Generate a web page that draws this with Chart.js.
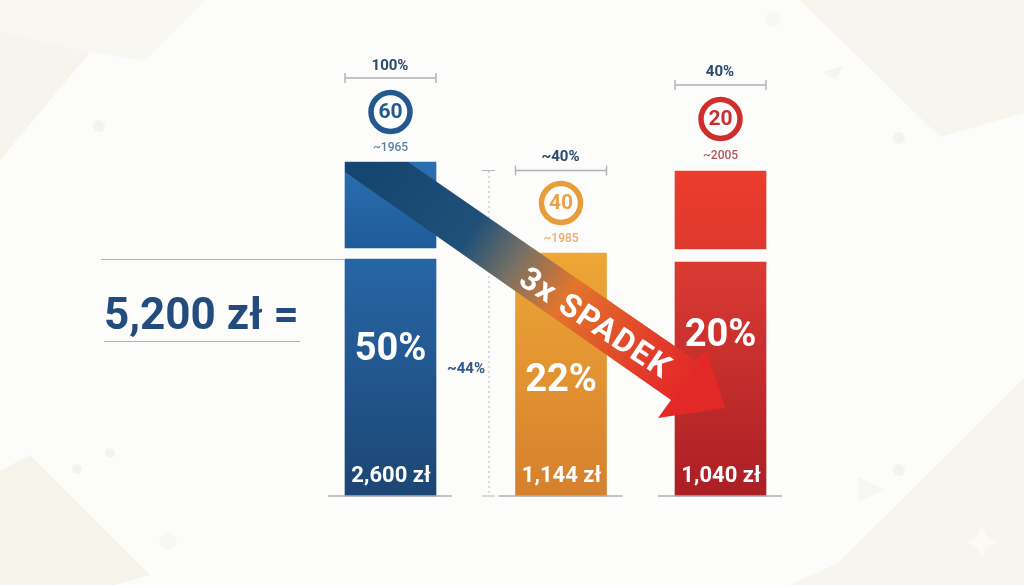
<!DOCTYPE html>
<html>
<head>
<meta charset="utf-8">
<style>
  html, body { margin: 0; padding: 0; background: #fcfcfb; }
  canvas { display: block; }
</style>
<script src="https://cdn.jsdelivr.net/npm/chart.js@4"></script>
</head>
<body>
<canvas id="dropChart" width="1024" height="585"></canvas>
<script>
/* global Chart */

// chart values
const ages = ['60', '40', '20'];
const years = ['~1965', '~1985', '~2005'];
const topShares = ['100%', '~40%', '40%'];
const incomeShares = ['50%', '22%', '20%'];
const amounts = ['2,600 zł', '1,144 zł', '1,040 zł'];
const slots = [0, 31, 60];
const lowerBars = [[0, 237], [0, 243], [0, 234]];
const upperBars = [[248, 334], null, [247, 325]];
const totalLabel = '5,200 zł =';
const gapLabel = '~44%';
const arrowLabel = '3x SPADEK';

const lowerTop = ['#2766a6', '#eea636', '#dc3a33'];
const lowerBottom = ['#1c4674', '#d5802d', '#aa1f25'];
const upperTop = ['#2a70b2', null, '#ec3c2d'];
const upperBottom = ['#1f5b99', null, '#de392e'];
const ringColors = ['#23598f', '#e99c3a', '#cf2e2c'];
const ringText = ['#23598f', '#e8a34a', '#c5302f'];
const yearColors = ['#5b80a6', '#e9ae6c', '#b4525c'];
const labelYs = [[66.5, 78, 112, 147.5], [157.5, 170.5, 203, 238.5], [72.5, 85, 119, 155.5]];
const shareYs = [350.5, 381.5, 336.5];

const FONT = 'Roboto, "Open Sans", sans-serif';
const NAVY = '#2c4a6e';
const RULE = '#aeb1b5';

function barGradient(context, spans, tops, bottoms) {
  const i = context.dataIndex;
  const { ctx, scales } = context.chart;
  if (i === undefined || !spans[i]) return tops[0];
  const y0 = scales.y.getPixelForValue(spans[i][1]);
  const y1 = scales.y.getPixelForValue(spans[i][0]);
  if (!Number.isFinite(y0) || !Number.isFinite(y1)) return tops[i];
  const grad = ctx.createLinearGradient(0, y0, 0, y1);
  grad.addColorStop(0, tops[i]);
  grad.addColorStop(1, bottoms[i]);
  return grad;
}

function poly(ctx, pts, color) {
  ctx.fillStyle = color;
  ctx.beginPath();
  pts.forEach((p, i) => (i ? ctx.lineTo(p[0], p[1]) : ctx.moveTo(p[0], p[1])));
  ctx.closePath();
  ctx.fill();
}

function line(ctx, x1, y1, x2, y2) {
  ctx.beginPath();
  ctx.moveTo(x1, y1);
  ctx.lineTo(x2, y2);
  ctx.stroke();
}

function label(ctx, text, x, y, font, color) {
  ctx.font = font;
  ctx.fillStyle = color;
  ctx.textAlign = 'center';
  ctx.textBaseline = 'middle';
  ctx.fillText(text, x, y);
}

const backdrop = {
  id: 'backdrop',
  beforeDraw(chart) {
    const { ctx } = chart;
    ctx.save();
    ctx.fillStyle = '#fcfcfb';
    ctx.fillRect(0, 0, 1024, 585);
    const beige = '#f7f5ee';
    poly(ctx, [[0, 30], [90, 52], [0, 160]], '#f6f4ec');
    poly(ctx, [[0, 0], [205, 0], [145, 61], [90, 52], [0, 30]], '#f8f7f2');
    poly(ctx, [[800, 0], [940, 137], [1024, 113], [1024, 0]], beige);
    poly(ctx, [[0, 471], [30, 455], [150, 575], [115, 585], [0, 585]], '#f6f3eb');
    poly(ctx, [[1024, 378], [838, 563], [790, 585], [1024, 585]], beige);
    poly(ctx, [[982, 524], [987, 537], [998, 542], [987, 547], [982, 560], [977, 547], [966, 542], [977, 537]], '#fbfaf6');
    poly(ctx, [[822, 72], [844, 66], [836, 80]], '#f7f5ee');
    poly(ctx, [[858, 477], [885, 490], [858, 501]], '#f8f6f0');
    ctx.fillStyle = '#f4f4ef';
    [[99, 126, 6], [899, 138, 6], [110, 453, 5], [77, 469, 5], [899, 470, 6]].forEach((d) => {
      ctx.beginPath();
      ctx.arc(d[0], d[1], d[2], 0, Math.PI * 2);
      ctx.fill();
    });
    ctx.fillStyle = '#f8f8f3';
    [[773, 19, 8], [168, 541, 9]].forEach((d) => {
      ctx.beginPath();
      ctx.arc(d[0], d[1], d[2], 0, Math.PI * 2);
      ctx.fill();
    });
    ctx.restore();
  },
};

const annotations = {
  id: 'annotations',
  afterDatasetsDraw(chart) {
    const { ctx } = chart;
    const base = chart.scales.y.getPixelForValue(0);
    const bars = chart.getDatasetMeta(0).data;
    ctx.save();

    // rules and total on the left
    ctx.strokeStyle = RULE;
    ctx.lineWidth = 1.2;
    line(ctx, 101, 259.5, 345, 259.5);
    line(ctx, 104, 341.5, 300, 341.5);
    ctx.font = `bold 44px ${FONT}`;
    ctx.fillStyle = '#234b7d';
    ctx.textAlign = 'left';
    ctx.textBaseline = 'alphabetic';
    ctx.fillText(totalLabel, 104, 329);

    // bracket with dotted span between first two bars
    ctx.strokeStyle = '#b4b6b8';
    ctx.lineWidth = 1;
    line(ctx, 482, 170.5, 495, 170.5);
    ctx.setLineDash([2, 3]);
    line(ctx, 489, 171, 489, base);
    ctx.setLineDash([]);
    line(ctx, 482, base, 495, base);
    label(ctx, gapLabel, 466, 369, `bold 15px ${FONT}`, '#2f5a86');

    bars.forEach((bar, i) => {
      const half = bar.width / 2;
      const [topY, bracketY, ringY, yearY] = labelYs[i];
      label(ctx, topShares[i], bar.x - 0.5, topY, `bold 15px ${FONT}`, NAVY);

      ctx.strokeStyle = RULE;
      ctx.lineWidth = 1.4;
      line(ctx, bar.x - half, bracketY, bar.x + half, bracketY);
      line(ctx, bar.x - half, bracketY - 5, bar.x - half, bracketY + 5);
      line(ctx, bar.x + half, bracketY - 5, bar.x + half, bracketY + 5);

      ctx.strokeStyle = ringColors[i];
      ctx.lineWidth = 5.5;
      ctx.fillStyle = '#ffffff';
      ctx.beginPath();
      ctx.arc(bar.x, ringY, 19.5, 0, Math.PI * 2);
      ctx.fill();
      ctx.stroke();
      label(ctx, ages[i], bar.x, ringY + 1, `bold 21px ${FONT}`, ringText[i]);
      label(ctx, years[i], bar.x, yearY, `500 12px ${FONT}`, yearColors[i]);

      // baseline under the bar
      ctx.strokeStyle = RULE;
      ctx.lineWidth = 1.4;
      line(ctx, bar.x - half - 17, base, bar.x + half + 16, base);

      label(ctx, incomeShares[i], bar.x, shareYs[i], `bold 38px ${FONT}`, '#ffffff');
      label(ctx, amounts[i], bar.x + 0.5, 476, `bold 22px ${FONT}`, '#ffffff');
    });

    // falling arrow over the bars
    const grad = ctx.createLinearGradient(375, 170, 690, 385);
    grad.addColorStop(0, '#164670');
    grad.addColorStop(0.3, '#1f5078');
    grad.addColorStop(0.45, '#7d7263');
    grad.addColorStop(0.6, '#e2752c');
    grad.addColorStop(0.85, '#e33f2a');
    grad.addColorStop(1, '#e32828');
    poly(ctx, [[345, 162], [408, 162], [695, 360], [707, 351], [725, 408], [658, 418], [671, 400], [345, 172]], grad);

    ctx.translate(595, 324);
    ctx.rotate(Math.atan2(85, 129));
    ctx.letterSpacing = '1.5px';
    label(ctx, arrowLabel, 0, 1, `bold 32px ${FONT}`, '#ffffff');
    ctx.restore();
  },
};

function initialize() {
  const lowerData = slots.map((x, i) => ({ x, y: lowerBars[i] }));
  const upperData = slots.map((x, i) => ({ x, y: upperBars[i] })).filter((p) => p.y);

  return new Chart(document.getElementById('dropChart'), {
    type: 'bar',
    data: {
      datasets: [
        {
          data: lowerData,
          backgroundColor: (c) => barGradient(c, lowerBars, lowerTop, lowerBottom),
        },
        {
          data: upperData,
          backgroundColor: (c) => {
            const spans = upperBars.filter(Boolean);
            return barGradient(c, spans, upperTop.filter(Boolean), upperBottom.filter(Boolean));
          },
        },
      ],
    },
    options: {
      responsive: false,
      animation: false,
      devicePixelRatio: 1,
      grouped: false,
      barThickness: 91,
      layout: { padding: 0 },
      plugins: { legend: { display: false }, tooltip: { enabled: false } },
      scales: {
        x: { type: 'linear', display: false, offset: false, min: -71, max: 115.18 },
        y: { display: false, min: -89, max: 496 },
      },
    },
    plugins: [backdrop, annotations],
  });
}

document.addEventListener('DOMContentLoaded', initialize);
</script>
</body>
</html>
